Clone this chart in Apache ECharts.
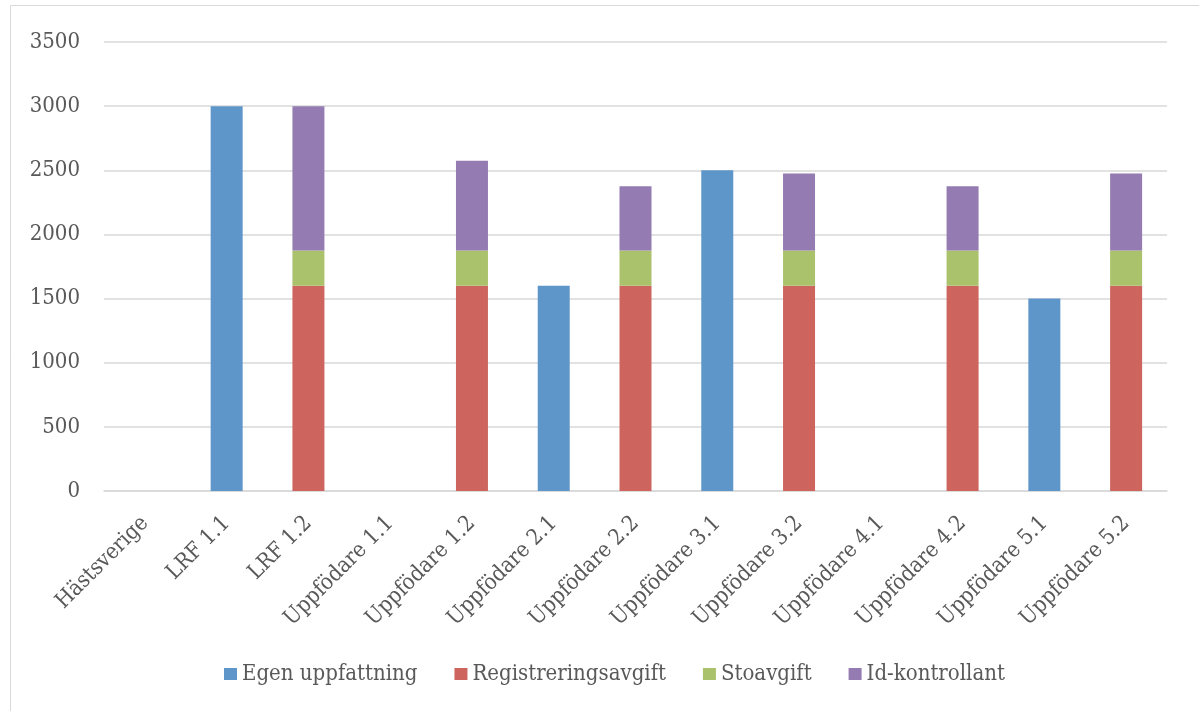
<!DOCTYPE html>
<html>
<head>
<meta charset="utf-8">
<script src="https://cdn.jsdelivr.net/npm/echarts@6/dist/echarts.min.js"></script>
<style>html,body{margin:0;padding:0;background:#fff}#c{width:1199px;height:711px}</style>
</head>
<body>
<div id="c"></div>
<script>
const categories = ['Hästsverige','LRF 1.1','LRF 1.2','Uppfödare 1.1','Uppfödare 1.2','Uppfödare 2.1','Uppfödare 2.2','Uppfödare 3.1','Uppfödare 3.2','Uppfödare 4.1','Uppfödare 4.2','Uppfödare 5.1','Uppfödare 5.2'];
const egenUppfattning = [null,3000,null,null,null,1600,null,2500,null,null,null,1500,null];
const registreringsavgift = [null,null,1600,null,1600,null,1600,null,1600,null,1600,null,1600];
const stoavgift = [null,null,275,null,275,null,275,null,275,null,275,null,275];
const idKontrollant = [null,null,1125,null,700,null,500,null,600,null,500,null,600];
const seriesNames = ['Egen uppfattning','Registreringsavgift','Stoavgift','Id-kontrollant'];
const yTicks = {min:0, max:3500, interval:500};

const font = '"DejaVu Serif Condensed", "DejaVu Serif", serif';
const txt = '#595959';
const chart = echarts.init(document.getElementById('c'));
const mk = (name, data, color) => ({
  name, type:'bar', stack:'total', data, barWidth:32,
  itemStyle:{color}, emphasis:{disabled:true}
});
chart.setOption({
  animation:false,
  graphic:[{type:'rect', shape:{x:10.5,y:5.5,width:1300,height:800}, style:{fill:'none', stroke:'#d9d9d9', lineWidth:1}, silent:true}],
  grid:{left:104, right:32, top:42, bottom:220},
  legend:{
    bottom:21, left:219, itemWidth:13, itemHeight:12, itemGap:37, icon:'rect',
    textStyle:{fontFamily:font, fontSize:22, color:txt, padding:[0,0,0,0]},
    data:seriesNames
  },
  xAxis:{
    type:'category', data:categories,
    axisLine:{lineStyle:{color:'#d9d9d9', width:1.5}}, axisTick:{show:false},
    axisLabel:{rotate:45, interval:0, fontFamily:font, fontSize:22, color:txt, margin:29}
  },
  yAxis:{
    type:'value', min:yTicks.min, max:yTicks.max, interval:yTicks.interval,
    axisLine:{show:false}, axisTick:{show:false},
    splitLine:{lineStyle:{color:'#d9d9d9', width:1.5}},
    axisLabel:{fontFamily:font, fontSize:22, color:txt, margin:24, formatter:v => String(v)}
  },
  series:[
    mk(seriesNames[0], egenUppfattning, '#5f96ca'),
    mk(seriesNames[1], registreringsavgift, '#cd655e'),
    mk(seriesNames[2], stoavgift, '#abc26c'),
    mk(seriesNames[3], idKontrollant, '#947bb1')
  ]
});
</script>
</body>
</html>
